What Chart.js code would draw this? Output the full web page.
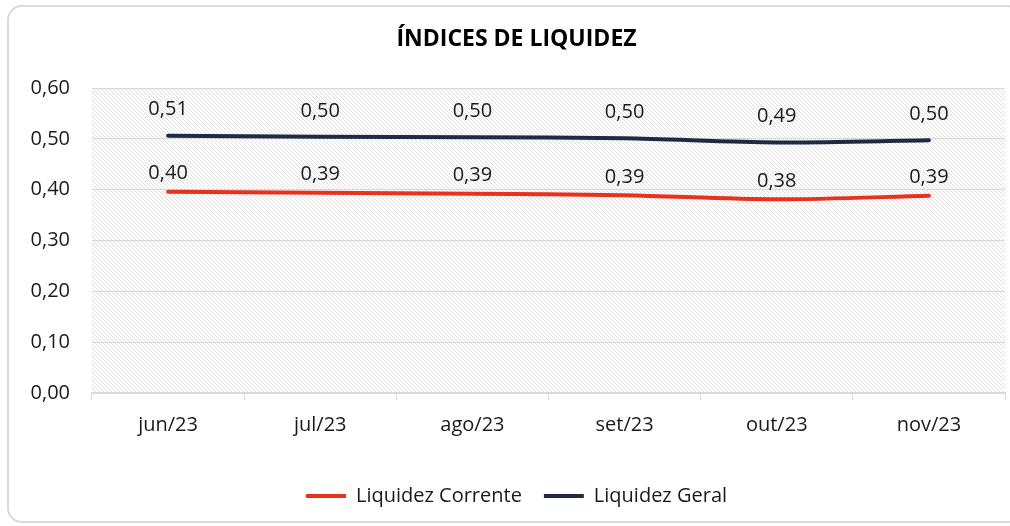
<!DOCTYPE html>
<html>
<head>
<meta charset="utf-8">
<script src="https://cdn.jsdelivr.net/npm/chart.js@4"></script>
<style>
  html, body { margin: 0; padding: 0; background: #fff; overflow: hidden; }
  #wrap { width: 1010px; height: 526px; position: relative; }
  canvas { display: block; }
</style>
</head>
<body>
<div id="wrap"><canvas id="c" width="1010" height="526"></canvas></div>
<script>
const categories = ['jun/23', 'jul/23', 'ago/23', 'set/23', 'out/23', 'nov/23'];
const liquidezCorrente = [0.396, 0.394, 0.392, 0.389, 0.381, 0.388];
const liquidezGeral = [0.506, 0.504, 0.503, 0.501, 0.493, 0.497];
const yTicks = [0, 0.1, 0.2, 0.3, 0.4, 0.5, 0.6];
const titleText = 'ÍNDICES DE LIQUIDEZ';

const FONT = "'Open Sans', sans-serif";
const fmt = v => v.toFixed(2).replace('.', ',');

function makePattern() {
  const p = document.createElement('canvas');
  p.width = 4; p.height = 4;
  const g = p.getContext('2d');
  g.fillStyle = '#ffffff';
  g.fillRect(0, 0, 4, 4);
  g.fillStyle = '#dedede';
  for (let i = 0; i < 4; i++) g.fillRect(i, i, 1, 1);
  return p;
}

const bgPlugin = {
  id: 'bg',
  beforeDraw(chart) {
    const ctx = chart.ctx;
    ctx.save();
    ctx.strokeStyle = '#d9d9d9';
    ctx.lineWidth = 2;
    ctx.beginPath();
    ctx.roundRect(8, 6, 1013, 516, 14);
    ctx.stroke();
    const a = chart.chartArea;
    ctx.fillStyle = ctx.createPattern(makePattern(), 'repeat');
    ctx.fillRect(a.left, a.top, a.right - a.left, a.bottom - a.top);
    ctx.restore();
  }
};

const labelPlugin = {
  id: 'valueLabels',
  afterDatasetsDraw(chart) {
    const ctx = chart.ctx;
    ctx.save();
    ctx.font = "20px " + FONT;
    ctx.fillStyle = '#1a1a1a';
    ctx.textAlign = 'center';
    ctx.textBaseline = 'middle';
    chart.data.datasets.forEach((ds, di) => {
      const meta = chart.getDatasetMeta(di);
      const off = ds.labelOffset;
      meta.data.forEach((pt, i) => {
        ctx.fillText(fmt(ds.data[i]), pt.x, pt.y - off);
      });
    });
    ctx.restore();
  }
};

new Chart(document.getElementById('c'), {
  type: 'line',
  data: {
    labels: categories,
    datasets: [
      {
        label: 'Liquidez Corrente',
        data: liquidezCorrente,
        borderColor: '#e8321c',
        backgroundColor: '#e8321c',
        borderWidth: 4,
        pointRadius: 0,
        tension: 0.3,
        borderCapStyle: 'round',
        labelOffset: 18
      },
      {
        label: 'Liquidez Geral',
        data: liquidezGeral,
        borderColor: '#1f2a44',
        backgroundColor: '#1f2a44',
        borderWidth: 4,
        pointRadius: 0,
        tension: 0.3,
        borderCapStyle: 'round',
        labelOffset: 26
      }
    ]
  },
  options: {
    responsive: false,
    animation: false,
    layout: { padding: { left: 28, right: 5, top: 0, bottom: 10 } },
    plugins: {
      title: {
        display: true,
        text: titleText,
        color: '#000',
        font: { family: FONT, size: 23, weight: 'bold' },
        padding: { top: 26, bottom: 34.4 }
      },
      legend: {
        position: 'bottom',
        labels: {
          color: '#1a1a1a',
          font: { family: FONT, size: 20 },
          boxWidth: 40,
          boxHeight: 4,
          padding: 22,
          generateLabels(chart) {
            const items = Chart.defaults.plugins.legend.labels.generateLabels(chart);
            items.forEach(it => { it.lineWidth = 0; it.strokeStyle = 'rgba(0,0,0,0)'; });
            return items;
          }
        }
      },
      tooltip: { enabled: false }
    },
    scales: {
      x: {
        offset: true,
        grid: { offset: true, drawOnChartArea: false, drawTicks: true, tickLength: 7, color: '#d9d9d9' },
        border: { color: '#d9d9d9', width: 2 },
        ticks: { color: '#1a1a1a', font: { family: FONT, size: 20 }, padding: 13 },
        afterFit(s) { s.height = 71; }
      },
      y: {
        min: 0, max: 0.6,
        afterBuildTicks(s) { s.ticks = yTicks.map(v => ({ value: v })); },
        grid: { color: '#d9d9d9', drawTicks: false },
        border: { display: false },
        ticks: { color: '#1a1a1a', font: { family: FONT, size: 20 }, padding: 22, callback: v => fmt(v) },
        afterFit(s) { s.width = 64; }
      }
    }
  },
  plugins: [bgPlugin, labelPlugin]
});
</script>
</body>
</html>
